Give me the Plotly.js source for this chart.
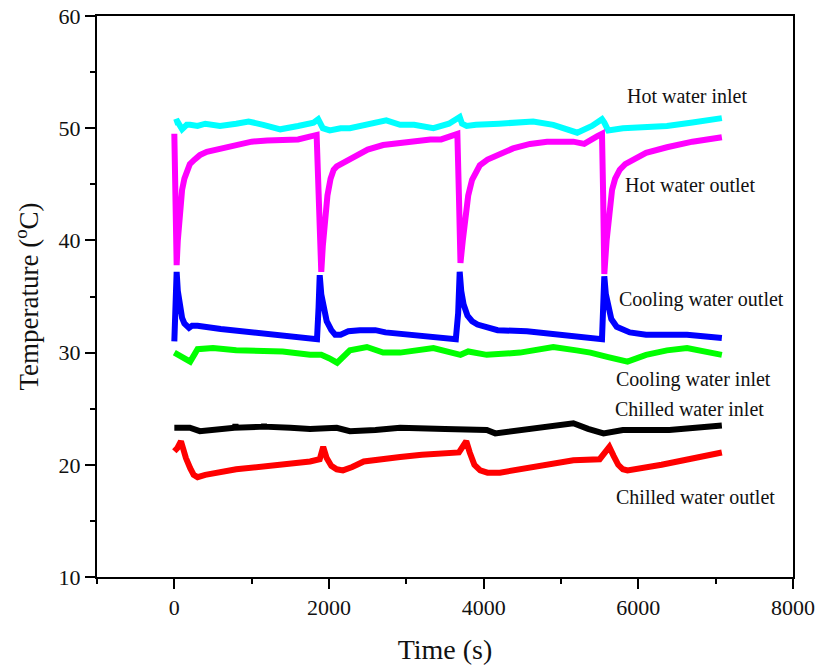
<!DOCTYPE html>
<html>
<head>
<meta charset="utf-8">
<script src="https://cdn.plot.ly/plotly-3.0.1.min.js"></script>
<style>html,body{margin:0;padding:0;background:#fff;}#chart{width:828px;height:665px;}</style>
</head>
<body>
<div id="chart"></div>
<script>
// Hot water inlet
const hotInT = [0, 40, 100, 160, 205, 300, 400, 590, 800, 960, 1150, 1370, 1600, 1800, 1860, 1920, 2010, 2150, 2270, 2500, 2740, 2920, 3100, 3350, 3550, 3690, 3720, 3780, 3900, 4200, 4640, 4900, 5210, 5400, 5530, 5560, 5610, 5800, 6370, 6700, 7080];
const hotInV = [50.5, 50.6, 49.9, 50.3, 50.3, 50.2, 50.4, 50.2, 50.4, 50.6, 50.3, 49.9, 50.2, 50.5, 50.8, 50.0, 49.8, 50.0, 50.0, 50.3, 50.7, 50.3, 50.3, 50.0, 50.4, 51.0, 50.4, 50.2, 50.3, 50.4, 50.6, 50.3, 49.6, 50.2, 50.8, 50.5, 49.8, 50.0, 50.2, 50.5, 50.9];
// Hot water outlet
const hotOutT = [0, 10, 20, 30, 45, 60, 80, 100, 130, 160, 200, 260, 330, 420, 550, 700, 850, 1000, 1200, 1410, 1600, 1840, 1860, 1880, 1900, 1920, 1950, 1980, 2020, 2060, 2100, 2200, 2350, 2500, 2700, 2920, 3310, 3450, 3660, 3680, 3700, 3730, 3760, 3800, 3850, 3900, 3950, 4050, 4200, 4380, 4600, 4820, 5160, 5300, 5470, 5530, 5545, 5560, 5590, 5620, 5660, 5700, 5760, 5830, 5900, 6000, 6100, 6370, 6700, 7080];
const hotOutV = [49.5, 45, 41, 37.8, 40.0, 41.8, 43.3, 44.5, 45.5, 46.2, 46.8, 47.2, 47.6, 47.9, 48.1, 48.3, 48.6, 48.8, 48.9, 49.0, 49.0, 49.4, 45, 40, 37.2, 39.5, 42.0, 44.0, 45.5, 46.3, 46.6, 47.0, 47.6, 48.1, 48.5, 48.7, 49.0, 49.0, 49.5, 44, 38.0, 40.0, 42.0, 44.0, 45.4, 46.2, 46.7, 47.2, 47.7, 48.2, 48.6, 48.8, 48.8, 48.6, 49.3, 49.5, 44, 37.0, 40.0, 42.5, 44.5, 45.5, 46.3, 46.8, 47.1, 47.5, 47.8, 48.3, 48.8, 49.2];
// Cooling water outlet
const coolOutT = [0, 15, 30, 45, 60, 80, 100, 130, 160, 190, 230, 300, 600, 1000, 1370, 1750, 1845, 1865, 1880, 1900, 1930, 1970, 2030, 2080, 2150, 2250, 2400, 2600, 2730, 3180, 3640, 3670, 3690, 3710, 3740, 3790, 3850, 3920, 4180, 4560, 4950, 5480, 5530, 5545, 5560, 5580, 5610, 5650, 5720, 5800, 5890, 6100, 6630, 7080];
const coolOutV = [31.0, 34, 37.2, 35.5, 34.5, 33.7, 33.1, 32.6, 32.3, 32.2, 32.4, 32.4, 32.1, 31.8, 31.6, 31.3, 31.2, 34, 36.9, 35.2, 33.8, 32.8, 32.0, 31.6, 31.6, 31.9, 32.0, 32.0, 31.8, 31.5, 31.2, 33.5, 37.2, 35.5, 34.3, 33.3, 32.8, 32.5, 32.0, 31.9, 31.6, 31.3, 31.2, 34, 36.8, 35.2, 34.0, 33.0, 32.3, 32.0, 31.8, 31.6, 31.6, 31.3];
// Cooling water inlet
const coolInT = [0, 100, 205, 300, 500, 800, 1100, 1400, 1755, 1900, 2000, 2105, 2270, 2490, 2700, 2920, 3350, 3700, 3800, 4040, 4470, 4900, 5200, 5380, 5610, 5860, 6100, 6370, 6630, 7080];
const coolInV = [30.0, 29.6, 29.2, 30.3, 30.4, 30.2, 30.1, 30.1, 29.8, 29.8, 29.5, 29.1, 30.2, 30.5, 30.0, 30.0, 30.4, 29.8, 30.1, 29.8, 30.0, 30.5, 30.2, 30.0, 29.6, 29.2, 29.8, 30.2, 30.4, 29.8];
// Chilled water inlet
const chillInT = [0, 200, 330, 600, 780, 790, 800, 1150, 1160, 1170, 1500, 1755, 2100, 2270, 2600, 2920, 3500, 3900, 4040, 4150, 4470, 4900, 5160, 5350, 5550, 5800, 6400, 7080];
const chillInV = [23.3, 23.3, 23.0, 23.2, 23.3, 23.6, 23.3, 23.4, 23.6, 23.4, 23.3, 23.2, 23.3, 23.0, 23.1, 23.3, 23.2, 23.2, 23.1, 22.8, 23.1, 23.4, 23.7, 23.2, 22.8, 23.1, 23.1, 23.5];
// Chilled water outlet
const chillOutT = [0, 40, 86, 110, 150, 205, 250, 300, 400, 800, 1370, 1755, 1880, 1925, 1970, 2030, 2100, 2180, 2300, 2450, 2920, 3200, 3680, 3775, 3820, 3880, 3955, 4050, 4210, 4640, 5160, 5500, 5625, 5680, 5740, 5800, 5860, 6300, 6800, 7080];
const chillOutV = [21.2, 21.5, 22.1, 21.5, 20.6, 19.7, 19.1, 18.9, 19.1, 19.6, 20.0, 20.3, 20.5, 21.6, 20.6, 19.9, 19.6, 19.5, 19.8, 20.3, 20.7, 20.9, 21.1, 22.1, 21.1, 20.0, 19.5, 19.3, 19.3, 19.8, 20.4, 20.5, 21.6, 20.8, 20.0, 19.6, 19.5, 20.0, 20.7, 21.1];

const labels = ["Hot water inlet", "Hot water outlet", "Cooling water outlet", "Cooling water inlet", "Chilled water inlet", "Chilled water outlet"];
const labelX = [5830, 5805, 5727, 5688, 5675, 5688];
const labelY = [52.9, 44.9, 34.7, 27.6, 25.0, 17.1];

const xTickVals = [0, 2000, 4000, 6000, 8000];
const yTickVals = [10, 20, 30, 40, 50, 60];

const series = [
  [hotInT, hotInV, '#00FFFF'],
  [hotOutT, hotOutV, '#FF00FF'],
  [coolOutT, coolOutV, '#0000FF'],
  [coolInT, coolInV, '#00FF00'],
  [chillInT, chillInV, '#000000'],
  [chillOutT, chillOutV, '#FF0000']
];

const traces = series.map((s, i) => ({
  x: s[0], y: s[1], type: 'scatter', mode: 'lines',
  line: {color: s[2], width: 6}, name: labels[i], showlegend: false
}));

const font = 'Liberation Serif';

const annotations = labels.map((t, i) => ({
  x: labelX[i], y: labelY[i], xref: 'x', yref: 'y', text: t, showarrow: false,
  xanchor: 'left', yanchor: 'middle', font: {family: font, size: 20, color: '#111'}
}));

const layout = {
  width: 828, height: 665,
  margin: {l: 97, r: 35, t: 16, b: 88},
  paper_bgcolor: '#fff', plot_bgcolor: '#fff',
  font: {family: font, color: '#111'},
  showlegend: false,
  xaxis: {
    range: [-1000, 8000], tickvals: xTickVals, ticktext: xTickVals.map(String),
    showgrid: false, zeroline: false, showline: true, mirror: true,
    linecolor: '#000', linewidth: 2, ticks: 'outside', ticklen: 10, tickwidth: 2, tickcolor: '#000',
    tickfont: {family: font, size: 22, color: '#111'},
    minor: {dtick: 1000, tick0: -1000, ticks: 'outside', ticklen: 5, tickwidth: 2, tickcolor: '#000', showgrid: false},
    title: {text: 'Time (s)', font: {family: font, size: 28, color: '#111'}, standoff: 20}
  },
  yaxis: {
    range: [10, 60], tickvals: yTickVals, ticktext: yTickVals.map(String),
    showgrid: false, zeroline: false, showline: true, mirror: true,
    linecolor: '#000', linewidth: 2, ticks: 'outside', ticklen: 10, tickwidth: 2, tickcolor: '#000',
    tickfont: {family: font, size: 22, color: '#111'},
    minor: {dtick: 5, tick0: 10, ticks: 'outside', ticklen: 5, tickwidth: 2, tickcolor: '#000', showgrid: false},
    title: {text: 'Temperature (<sup>o</sup>C)', font: {family: font, size: 27, color: '#111'}, standoff: 12}
  },
  annotations: annotations
};

Plotly.newPlot('chart', traces, layout, {displayModeBar: false, staticPlot: true});
</script>
</body>
</html>
